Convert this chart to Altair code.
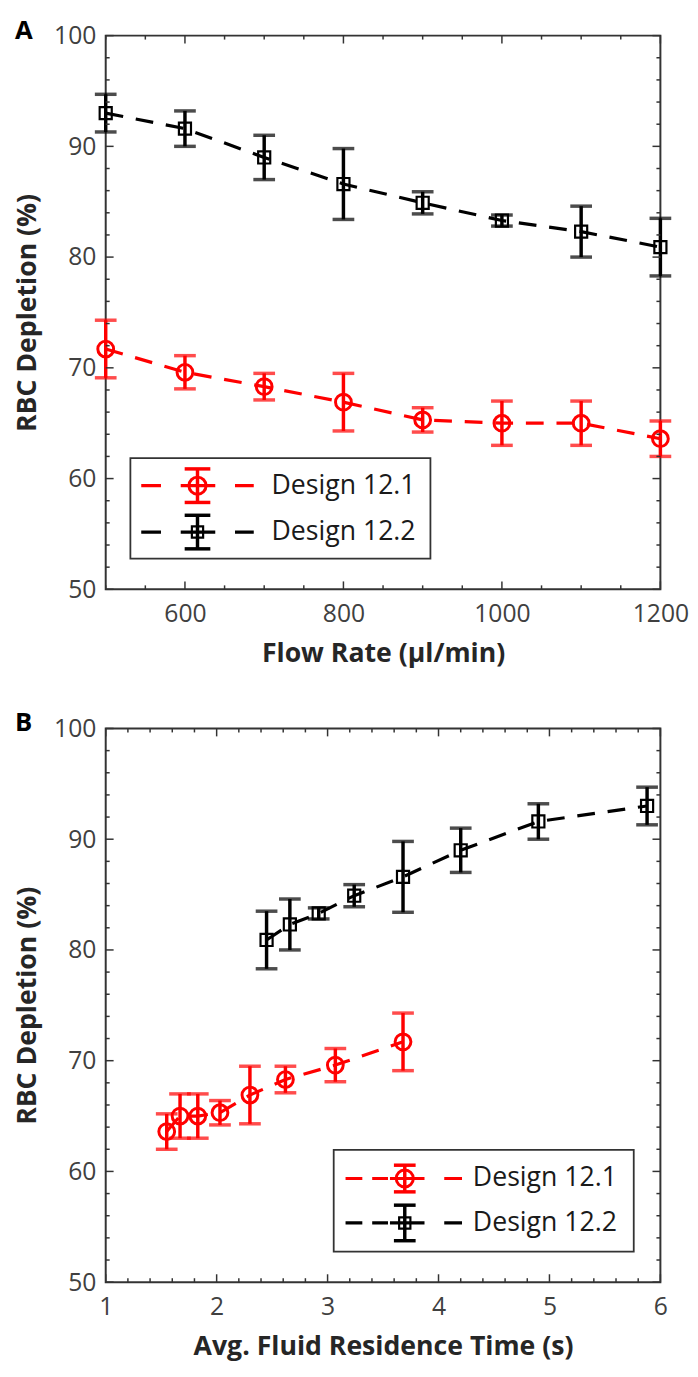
import altair as alt
import pandas as pd

# ---------------- data ----------------
flow_rate = [500, 600, 700, 800, 900, 1000, 1100, 1200]
dep_121 = [71.7, 69.6, 68.3, 66.9, 65.3, 65.0, 65.0, 63.6]
err_121 = [2.6, 1.5, 1.2, 2.6, 1.1, 2.0, 2.0, 1.6]
dep_122 = [93.0, 91.6, 89.0, 86.6, 84.9, 83.3, 82.3, 80.9]
err_122 = [1.7, 1.6, 2.0, 3.2, 1.0, 0.5, 2.3, 2.6]
time_121 = [3.68, 3.07, 2.62, 2.30, 2.03, 1.83, 1.67, 1.55]
time_122 = [5.88, 4.90, 4.20, 3.68, 3.24, 2.92, 2.66, 2.45]

series = ["Design 12.1", "Design 12.2"]
colors = ["#ff0000", "#000000"]
panel_labels = ["A", "B"]
x_titles = ["Flow Rate (\u03bcl/min)", "Avg. Fluid Residence Time (s)"]
y_title = "RBC Depletion (%)"

y_labels = [50, 60, 70, 80, 90, 100]
y_minor = [50, 52, 54, 56, 58, 60, 62, 64, 66, 68, 70, 72, 74, 76, 78, 80,
           82, 84, 86, 88, 90, 92, 94, 96, 98, 100]
xa_labels = [600, 800, 1000, 1200]
xa_major = [600, 800, 1000, 1200]
xa_minor = [500, 550, 650, 700, 750, 850, 900, 950, 1050, 1100, 1150]
xb_labels = [1, 2, 3, 4, 5, 6]
xb_major = [1, 2, 3, 4, 5, 6]
xb_minor = [1.2, 1.4, 1.6, 1.8, 2.2, 2.4, 2.6, 2.8, 3.2, 3.4, 3.6, 3.8,
            4.2, 4.4, 4.6, 4.8, 5.2, 5.4, 5.6, 5.8]

# ---------------- styling ----------------
W, H = 562, 561
FONT = "Open Sans"
LABEL_COLOR = "#404040"
TITLE_COLOR = "#262626"
FRAME = "#333333"
DASH = [18, 13]


def make_panel(xa, xb, xdomain, xlabels, xmajor, xminor, xtitle, label, leg):
    rows = []
    for xs, ys, es, name in [(xa, dep_121, err_121, series[0]),
                             (xb, dep_122, err_122, series[1])]:
        for xv, yv, ev in zip(xs, ys, es):
            rows.append({"x": xv, "y": yv, "lo": yv - ev, "hi": yv + ev, "series": name})
    df = pd.DataFrame(rows)

    xenc = alt.X("x:Q", scale=alt.Scale(domain=xdomain, nice=False, zero=False),
                 axis=alt.Axis(values=xlabels, format="d", title=xtitle, ticks=False,
                               domain=False, grid=False, labelFont=FONT, labelFontSize=25,
                               labelColor=LABEL_COLOR, labelPadding=13, titleFont=FONT,
                               titleFontSize=27, titleFontWeight="bold", titleColor=TITLE_COLOR,
                               titlePadding=14, labelFlush=False))
    yenc = alt.Y("y:Q", scale=alt.Scale(domain=[50, 100], nice=False, zero=False),
                 axis=alt.Axis(values=y_labels, title=y_title, ticks=False, domain=False,
                               grid=False, labelFont=FONT, labelFontSize=25,
                               labelColor=LABEL_COLOR, labelPadding=10, titleFont=FONT,
                               titleFontSize=27, titleFontWeight="bold", titleColor=TITLE_COLOR,
                               titlePadding=12, labelFlush=False))
    cenc = alt.Color("series:N", scale=alt.Scale(domain=series, range=colors), legend=None)

    base = alt.Chart(df)
    line = base.mark_line(strokeDash=DASH, strokeWidth=3.2).encode(
        x=xenc, y=yenc, color=cenc, detail="series:N")
    bars = base.mark_rule(strokeWidth=3.5).encode(x="x:Q", y="lo:Q", y2="hi:Q", color=cenc)
    cap_lo = base.mark_tick(orient="horizontal", size=22, thickness=3.5).encode(
        x="x:Q", y="lo:Q", color=cenc)
    cap_hi = base.mark_tick(orient="horizontal", size=22, thickness=3.5).encode(
        x="x:Q", y="hi:Q", color=cenc)
    circ = base.transform_filter(alt.datum.series == series[0]).mark_point(
        shape="circle", size=256, filled=False, strokeWidth=3, opacity=1).encode(
        x="x:Q", y="y:Q", color=cenc)
    sq = base.transform_filter(alt.datum.series == series[1]).mark_point(
        shape="square", size=150, filled=False, strokeWidth=2.2, opacity=1).encode(
        x="x:Q", y="y:Q", color=cenc)

    layers = [line, bars, cap_lo, cap_hi, circ, sq]

    # inward ticks on all four sides
    def ytick(vals, length):
        d = pd.DataFrame({"y": vals})
        c = alt.Chart(d)
        return [
            c.mark_rule(color=FRAME, strokeWidth=1.5).encode(
                y="y:Q", x=alt.value(0), x2=alt.value(length)),
            c.mark_rule(color=FRAME, strokeWidth=1.5).encode(
                y="y:Q", x=alt.value(W), x2=alt.value(W - length)),
        ]

    def xtick(vals, length):
        d = pd.DataFrame({"x": vals})
        c = alt.Chart(d)
        return [
            c.mark_rule(color=FRAME, strokeWidth=1.5).encode(
                x="x:Q", y=alt.value(H), y2=alt.value(H - length)),
            c.mark_rule(color=FRAME, strokeWidth=1.5).encode(
                x="x:Q", y=alt.value(0), y2=alt.value(length)),
        ]

    y_major = [v for v in y_minor if v % 10 == 0]
    y_min = [v for v in y_minor if v % 10 != 0]
    layers += ytick(y_major, 8) + ytick(y_min, 4) + xtick(xmajor, 8) + xtick(xminor, 4)

    # hand-drawn legend (errorbar-style symbols)
    bx0, bx1, by0, by1 = leg["box"]
    one = pd.DataFrame({"t": [0]})
    layers.append(alt.Chart(one).mark_rect(fill="white", stroke=FRAME, strokeWidth=1.8).encode(
        x=alt.value(bx0), x2=alt.value(bx1), y=alt.value(by0), y2=alt.value(by1)))
    for i, name in enumerate(series):
        ry = leg["rows"][i]
        mx = leg["mx"]
        col = colors[i]
        c = alt.Chart(pd.DataFrame({"t": [name]}))
        layers.append(c.mark_rule(color=col, strokeWidth=3.2, strokeDash=leg["dash"]).encode(
            x=alt.value(leg["lx"][0]), x2=alt.value(leg["lx"][1]), y=alt.value(ry)))
        eh = leg["eh"][i]
        cw = leg["cw"]
        layers.append(c.mark_rule(color=col, strokeWidth=3.5).encode(
            x=alt.value(mx), y=alt.value(ry - eh), y2=alt.value(ry + eh)))
        for yy in (ry - eh, ry + eh):
            layers.append(c.mark_rule(color=col, strokeWidth=3.5).encode(
                x=alt.value(mx - cw), x2=alt.value(mx + cw), y=alt.value(yy)))
        if i == 0:
            layers.append(c.mark_point(shape="circle", size=300, filled=False, strokeWidth=3,
                                       color=col, opacity=1).encode(
                x=alt.value(mx), y=alt.value(ry)))
        else:
            layers.append(c.mark_point(shape="square", size=130, filled=False, strokeWidth=2.2,
                                       color=col, opacity=1).encode(
                x=alt.value(mx), y=alt.value(ry)))
        layers.append(c.mark_text(align="left", baseline="middle", font=FONT, fontSize=27,
                                  color="#1a1a1a").encode(
            x=alt.value(leg["tx"]), y=alt.value(ry), text="t:N"))

    # panel letter
    layers.append(alt.Chart(pd.DataFrame({"t": [label]})).mark_text(
        align="left", baseline="top", font=FONT, fontSize=26, fontWeight="bold",
        color="#000000").encode(x=alt.value(-92), y=alt.value(-18), text="t:N"))

    return alt.layer(*layers).properties(width=W, height=H)


leg_a = {"box": (25, 329, 428, 530), "rows": (456, 503), "lx": (36, 150), "mx": 93,
         "dash": [20, 20, 35, 20, 20], "eh": (17, 17), "cw": 13, "tx": 168}
leg_b = {"box": (231, 535, 427, 530), "rows": (456, 501), "lx": (243, 361), "mx": 303,
         "dash": [17, 10, 16, 2, 35, 20, 18], "eh": (13.5, 18), "cw": 11, "tx": 372}

pa = make_panel(flow_rate, flow_rate, [500, 1200], xa_labels, xa_major, xa_minor,
                x_titles[0], panel_labels[0], leg_a)
pb = make_panel(time_121, time_122, [1, 6], xb_labels, xb_major, xb_minor,
                x_titles[1], panel_labels[1], leg_b)

chart = alt.vconcat(pa, pb, spacing=141, bounds="flush").configure_view(
    stroke=FRAME, strokeWidth=2).properties(
    padding={"left": 5, "top": 0, "right": 0, "bottom": 0}, background="white")

chart.save("out.html", embed_options={"renderer": "svg", "actions": False})
